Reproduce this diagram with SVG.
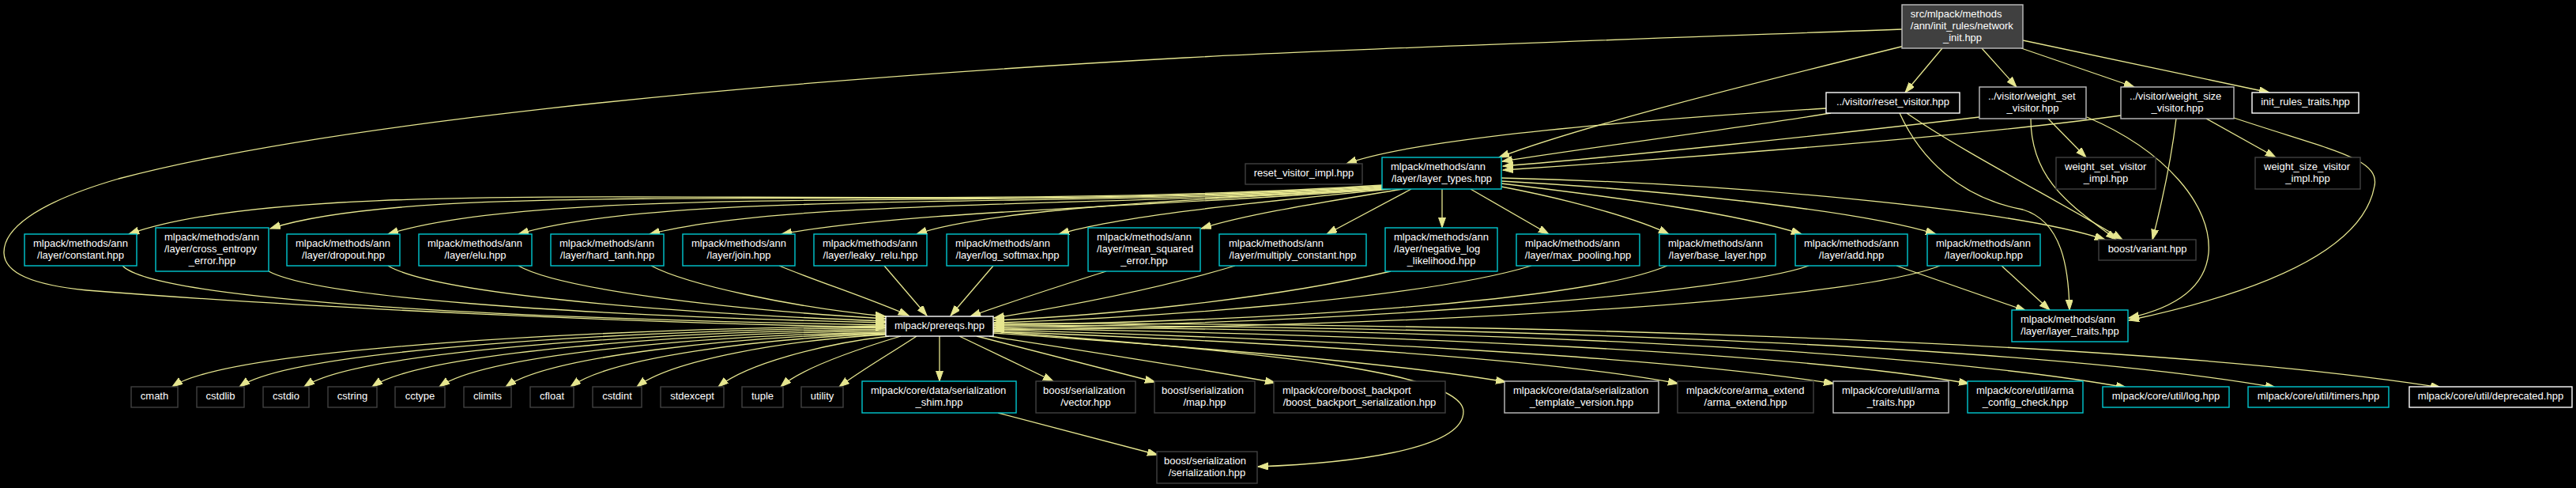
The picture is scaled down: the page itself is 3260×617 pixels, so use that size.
<svg xmlns="http://www.w3.org/2000/svg" width="3260" height="617" viewBox="0 0 3260 617">
<style>
.node rect{fill:#000;stroke-width:1.4}
.cy rect{stroke:#00c8d0}
.wh rect{stroke:#ffffff}
.lg rect{stroke:#bfbfbf}
.dg rect{stroke:#404040}
.root rect{fill:#404040;stroke:#bfbfbf}
text{font-family:"Liberation Sans",Arial,Helvetica,sans-serif;font-size:13px;fill:#ffffff}
.m{text-anchor:middle}
#edges path{fill:none;stroke:#e6e68f;stroke-width:1.3;marker-end:url(#ah)}
</style>
<defs>
<marker id="ah" markerUnits="userSpaceOnUse" markerWidth="14" markerHeight="10" refX="13" refY="4.5" orient="auto">
<path d="M0,0 L13,4.5 L0,9 Z" fill="#e6e68f" stroke="#e6e68f" stroke-width="1"/>
</marker>
</defs>
<rect x="0" y="0" width="3260" height="617" fill="#000"/>
<g id="edges">
<path d="M2407,37 C2000,52 1700,62 1500,73 C900,106 400,160 150,226 C40,258 4,292 5,320 C6,345 40,360 110,367 C400,390 800,408 1121,414"/>
<path d="M155,336 C190,372 500,400 1121,411"/>
<path d="M340,343 C400,375 700,398 1121,408"/>
<path d="M491,336 C545,368 800,394 1121,406"/>
<path d="M656,336 C705,364 900,390 1121,403"/>
<path d="M824,336 C870,360 1000,388 1121,400"/>
<path d="M986,336 C1040,358 1100,377 1150,399"/>
<path d="M1119,336 L1173,399"/>
<path d="M1257,336 L1203,399"/>
<path d="M1400,343 C1330,365 1270,385 1228,400"/>
<path d="M1563,336 C1450,370 1320,392 1258,402"/>
<path d="M1760,343 C1600,380 1380,400 1258,405"/>
<path d="M1938,336 C1800,378 1450,402 1258,408"/>
<path d="M2110,336 C2000,382 1600,406 1258,411"/>
<path d="M2289,336 C2200,368 1750,408 1258,414"/>
<path d="M2455,336 C2350,378 1850,412 1258,417"/>
<path d="M1121,412 C760,416 290,440 218,489"/>
<path d="M1121,414 C794,418 370,442 303,489"/>
<path d="M1121,416 C827,420 450,444 385,489"/>
<path d="M1121,418 C861,422 533,446 471,489"/>
<path d="M1121,420 C895,424 615,448 556,489"/>
<path d="M1121,421 C929,426 695,450 640,489"/>
<path d="M1121,422 C961,428 772,452 722,489"/>
<path d="M1121,423 C995,430 850,455 806,489"/>
<path d="M1125,425 C1040,435 945,460 909,489"/>
<path d="M1140,425 C1090,440 1015,465 988,489"/>
<path d="M1160,425 C1130,445 1090,468 1062,489"/>
<path d="M1189,425 L1189,482"/>
<path d="M1214,425 L1333,482"/>
<path d="M1236,425 L1462,483"/>
<path d="M1252,425 C1400,448 1530,468 1614,484"/>
<path d="M1257,419 C1600,445 1850,470 1852,520 C1853,570 1700,586 1592,590"/>
<path d="M1257,421 C1500,438 1760,458 1906,483"/>
<path d="M1257,419 C1600,432 1950,452 2124,485"/>
<path d="M1257,417 C1650,428 2100,450 2321,485"/>
<path d="M1257,415 C1700,422 2250,442 2492,485"/>
<path d="M1257,413 C1800,416 2400,438 2691,490"/>
<path d="M1257,411 C1800,412 2550,432 2880,490"/>
<path d="M1257,409 C1850,408 2700,428 3089,490"/>
<path d="M1263,522 L1465,575"/>
<path d="M2410,58 C2200,110 2000,160 1897,199"/>
<path d="M2458,61 L2411,117"/>
<path d="M2508,61 L2552,110"/>
<path d="M2558,61 L2701,110"/>
<path d="M2560,51 L2872,117"/>
<path d="M2311,137 C2100,150 1800,172 1704,207"/>
<path d="M2317,143 C2200,162 2000,188 1901,204"/>
<path d="M2413,143 C2480,190 2620,262 2686,303"/>
<path d="M2404,143 C2430,200 2480,250 2560,265 C2610,280 2618,340 2619,392"/>
<path d="M2505,148 C2300,172 2050,198 1902,210"/>
<path d="M2592,150 L2640,199"/>
<path d="M2570,150 C2570,230 2625,262 2678,303"/>
<path d="M2641,148 C2740,190 2800,260 2795,320 C2790,370 2740,392 2694,402"/>
<path d="M2684,146 C2500,172 2100,202 1902,215"/>
<path d="M2792,150 L2880,199"/>
<path d="M2754,150 C2748,200 2735,260 2724,303"/>
<path d="M2827,149 C2950,190 3012,200 3005,235 C2990,320 2850,372 2694,405"/>
<path d="M1750,234 C1100,275 400,212 163,296"/>
<path d="M1750,235 C1200,272 550,222 342,289"/>
<path d="M1750,236 C1300,268 700,230 491,296"/>
<path d="M1750,237 C1400,265 850,238 656,296"/>
<path d="M1750,238 C1450,262 1000,250 822,296"/>
<path d="M1750,239 C1500,260 1150,266 989,296"/>
<path d="M1752,239 C1500,252 1250,265 1160,296"/>
<path d="M1760,239 C1600,255 1420,272 1340,296"/>
<path d="M1775,239 C1680,255 1580,270 1520,289"/>
<path d="M1786,239 L1679,296"/>
<path d="M1825,239 L1825,288"/>
<path d="M1861,239 L1960,296"/>
<path d="M1900,236 C2000,255 2080,280 2112,296"/>
<path d="M1900,232 C2050,250 2200,270 2280,296"/>
<path d="M1900,229 C2100,240 2350,265 2450,296"/>
<path d="M1900,225 C2200,232 2550,265 2664,303"/>
<path d="M2400,336 L2564,393"/>
<path d="M2533,336 L2594,392"/>
</g>
<g id="n_root" class="node root"><rect x="2407" y="6" width="153" height="55"/><text x="2417.8" y="21.9">src/mlpack/methods</text><text x="2417.8" y="36.9">/ann/init_rules/network</text><text class="m" x="2483.5" y="51.9">_init.hpp</text></g>
<g id="n_reset" class="node wh"><rect x="2311" y="117" width="169" height="26"/><text class="m" x="2395.5" y="133.4">../visitor/reset_visitor.hpp</text></g>
<g id="n_wset" class="node lg"><rect x="2505" y="110" width="135" height="40"/><text x="2516" y="125.9">../visitor/weight_set</text><text class="m" x="2572.5" y="140.9">_visitor.hpp</text></g>
<g id="n_wsize" class="node lg"><rect x="2684" y="110" width="143" height="40"/><text x="2695" y="125.9">../visitor/weight_size</text><text class="m" x="2755.5" y="140.9">_visitor.hpp</text></g>
<g id="n_irt" class="node wh"><rect x="2850" y="117" width="135" height="26"/><text class="m" x="2917.5" y="133.4">init_rules_traits.hpp</text></g>
<g id="n_resetimpl" class="node dg"><rect x="1576" y="207" width="148" height="26"/><text class="m" x="1650" y="223.4">reset_visitor_impl.hpp</text></g>
<g id="n_ltypes" class="node cy"><rect x="1749" y="199" width="151" height="40"/><text x="1760" y="214.9">mlpack/methods/ann</text><text class="m" x="1824.5" y="229.9">/layer/layer_types.hpp</text></g>
<g id="n_wsetimpl" class="node dg"><rect x="2602" y="199" width="126" height="40"/><text x="2613" y="214.9">weight_set_visitor</text><text class="m" x="2665" y="229.9">_impl.hpp</text></g>
<g id="n_wsizeimpl" class="node dg"><rect x="2854" y="199" width="133" height="40"/><text x="2865" y="214.9">weight_size_visitor</text><text class="m" x="2920.5" y="229.9">_impl.hpp</text></g>
<g id="n_constant" class="node cy"><rect x="31" y="296" width="142" height="40"/><text x="42" y="311.9">mlpack/methods/ann</text><text class="m" x="102" y="326.9">/layer/constant.hpp</text></g>
<g id="n_cross" class="node cy"><rect x="197" y="288" width="143" height="55"/><text x="208" y="303.9">mlpack/methods/ann</text><text x="208" y="318.9">/layer/cross_entropy</text><text class="m" x="268.5" y="333.9">_error.hpp</text></g>
<g id="n_dropout" class="node cy"><rect x="363" y="296" width="143" height="40"/><text x="374" y="311.9">mlpack/methods/ann</text><text class="m" x="434.5" y="326.9">/layer/dropout.hpp</text></g>
<g id="n_elu" class="node cy"><rect x="530" y="296" width="143" height="40"/><text x="541" y="311.9">mlpack/methods/ann</text><text class="m" x="601.5" y="326.9">/layer/elu.hpp</text></g>
<g id="n_hardtanh" class="node cy"><rect x="697" y="296" width="143" height="40"/><text x="708" y="311.9">mlpack/methods/ann</text><text class="m" x="768.5" y="326.9">/layer/hard_tanh.hpp</text></g>
<g id="n_join" class="node cy"><rect x="864" y="296" width="142" height="40"/><text x="875" y="311.9">mlpack/methods/ann</text><text class="m" x="935" y="326.9">/layer/join.hpp</text></g>
<g id="n_leaky" class="node cy"><rect x="1030" y="296" width="143" height="40"/><text x="1041" y="311.9">mlpack/methods/ann</text><text class="m" x="1101.5" y="326.9">/layer/leaky_relu.hpp</text></g>
<g id="n_logsoftmax" class="node cy"><rect x="1198" y="296" width="154" height="40"/><text x="1209" y="311.9">mlpack/methods/ann</text><text class="m" x="1275" y="326.9">/layer/log_softmax.hpp</text></g>
<g id="n_mse" class="node cy"><rect x="1377" y="288" width="142" height="55"/><text x="1388" y="303.9">mlpack/methods/ann</text><text x="1388" y="318.9">/layer/mean_squared</text><text class="m" x="1448" y="333.9">_error.hpp</text></g>
<g id="n_mulconst" class="node cy"><rect x="1543" y="296" width="186" height="40"/><text x="1555" y="311.9">mlpack/methods/ann</text><text class="m" x="1636" y="326.9">/layer/multiply_constant.hpp</text></g>
<g id="n_nll" class="node cy"><rect x="1753" y="288" width="142" height="55"/><text x="1764" y="303.9">mlpack/methods/ann</text><text x="1764" y="318.9">/layer/negative_log</text><text class="m" x="1824" y="333.9">_likelihood.hpp</text></g>
<g id="n_maxpool" class="node cy"><rect x="1919" y="296" width="156" height="40"/><text x="1930" y="311.9">mlpack/methods/ann</text><text class="m" x="1997" y="326.9">/layer/max_pooling.hpp</text></g>
<g id="n_base" class="node cy"><rect x="2100" y="296" width="147" height="40"/><text x="2111" y="311.9">mlpack/methods/ann</text><text class="m" x="2173.5" y="326.9">/layer/base_layer.hpp</text></g>
<g id="n_add" class="node cy"><rect x="2272" y="296" width="142" height="40"/><text x="2283" y="311.9">mlpack/methods/ann</text><text class="m" x="2343" y="326.9">/layer/add.hpp</text></g>
<g id="n_lookup" class="node cy"><rect x="2439" y="296" width="143" height="40"/><text x="2450" y="311.9">mlpack/methods/ann</text><text class="m" x="2510.5" y="326.9">/layer/lookup.hpp</text></g>
<g id="n_variant" class="node dg"><rect x="2656" y="303" width="123" height="26"/><text class="m" x="2717.5" y="319.4">boost/variant.hpp</text></g>
<g id="n_ltraits" class="node cy"><rect x="2546" y="392" width="147" height="40"/><text x="2557" y="407.9">mlpack/methods/ann</text><text class="m" x="2619.5" y="422.9">/layer/layer_traits.hpp</text></g>
<g id="n_prereqs" class="node wh"><rect x="1121" y="400" width="136" height="25"/><text class="m" x="1189" y="415.9">mlpack/prereqs.hpp</text></g>
<g id="n_cmath" class="node dg"><rect x="166" y="489" width="59" height="26"/><text class="m" x="195.5" y="505.4">cmath</text></g>
<g id="n_cstdlib" class="node dg"><rect x="249" y="489" width="60" height="26"/><text class="m" x="279" y="505.4">cstdlib</text></g>
<g id="n_cstdio" class="node dg"><rect x="333" y="489" width="58" height="26"/><text class="m" x="362" y="505.4">cstdio</text></g>
<g id="n_cstring" class="node dg"><rect x="415" y="489" width="62" height="26"/><text class="m" x="446" y="505.4">cstring</text></g>
<g id="n_cctype" class="node dg"><rect x="500" y="489" width="63" height="26"/><text class="m" x="531.5" y="505.4">cctype</text></g>
<g id="n_climits" class="node dg"><rect x="587" y="489" width="60" height="26"/><text class="m" x="617" y="505.4">climits</text></g>
<g id="n_cfloat" class="node dg"><rect x="671" y="489" width="55" height="26"/><text class="m" x="698.5" y="505.4">cfloat</text></g>
<g id="n_cstdint" class="node dg"><rect x="750" y="489" width="62" height="26"/><text class="m" x="781" y="505.4">cstdint</text></g>
<g id="n_stdexcept" class="node dg"><rect x="836" y="489" width="80" height="26"/><text class="m" x="876" y="505.4">stdexcept</text></g>
<g id="n_tuple" class="node dg"><rect x="939" y="489" width="52" height="26"/><text class="m" x="965" y="505.4">tuple</text></g>
<g id="n_utility" class="node dg"><rect x="1014" y="489" width="53" height="26"/><text class="m" x="1040.5" y="505.4">utility</text></g>
<g id="n_shim" class="node cy"><rect x="1091" y="482" width="195" height="40"/><text x="1102" y="497.9">mlpack/core/data/serialization</text><text class="m" x="1188.5" y="512.9">_shim.hpp</text></g>
<g id="n_vector" class="node dg"><rect x="1311" y="482" width="126" height="40"/><text x="1320" y="497.9">boost/serialization</text><text class="m" x="1374" y="512.9">/vector.hpp</text></g>
<g id="n_map" class="node dg"><rect x="1461" y="482" width="127" height="40"/><text x="1470" y="497.9">boost/serialization</text><text class="m" x="1524.5" y="512.9">/map.hpp</text></g>
<g id="n_backport" class="node dg"><rect x="1612" y="482" width="217" height="40"/><text x="1623" y="497.9">mlpack/core/boost_backport</text><text class="m" x="1720.5" y="512.9">/boost_backport_serialization.hpp</text></g>
<g id="n_tmplver" class="node lg"><rect x="1904" y="482" width="195" height="40"/><text x="1915" y="497.9">mlpack/core/data/serialization</text><text class="m" x="2001.5" y="512.9">_template_version.hpp</text></g>
<g id="n_armaext" class="node dg"><rect x="2123" y="482" width="172" height="40"/><text x="2134" y="497.9">mlpack/core/arma_extend</text><text class="m" x="2209" y="512.9">/arma_extend.hpp</text></g>
<g id="n_armatraits" class="node lg"><rect x="2320" y="482" width="146" height="40"/><text x="2331" y="497.9">mlpack/core/util/arma</text><text class="m" x="2393" y="512.9">_traits.hpp</text></g>
<g id="n_armacfg" class="node cy"><rect x="2490" y="482" width="146" height="40"/><text x="2501" y="497.9">mlpack/core/util/arma</text><text class="m" x="2563" y="512.9">_config_check.hpp</text></g>
<g id="n_log" class="node cy"><rect x="2661" y="489" width="160" height="26"/><text class="m" x="2741" y="505.4">mlpack/core/util/log.hpp</text></g>
<g id="n_timers" class="node cy"><rect x="2845" y="489" width="178" height="26"/><text class="m" x="2934" y="505.4">mlpack/core/util/timers.hpp</text></g>
<g id="n_deprecated" class="node wh"><rect x="3049" y="489" width="206" height="26"/><text class="m" x="3152" y="505.4">mlpack/core/util/deprecated.hpp</text></g>
<g id="n_ser" class="node dg"><rect x="1464" y="571" width="127" height="40"/><text x="1473" y="586.9">boost/serialization</text><text class="m" x="1527.5" y="601.9">/serialization.hpp</text></g>
</svg>
